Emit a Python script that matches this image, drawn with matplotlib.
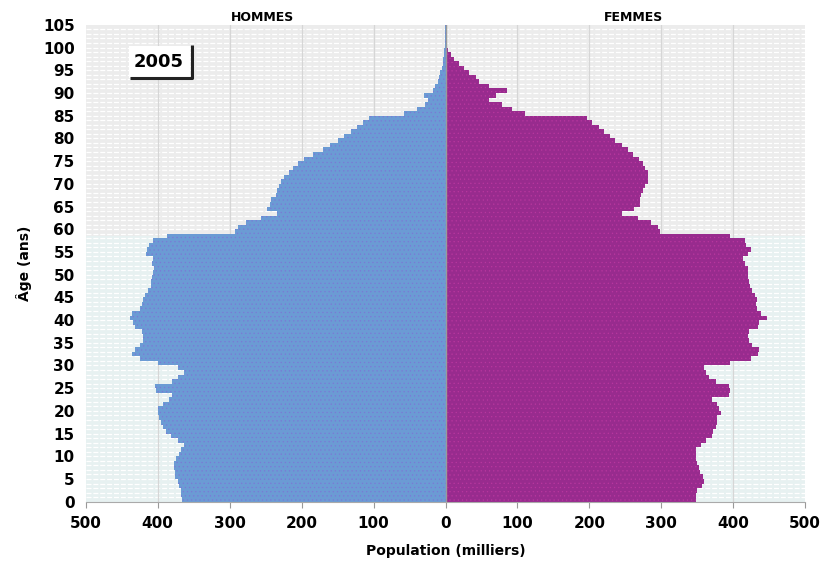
import numpy as np
import matplotlib.pyplot as plt
from matplotlib.patches import Rectangle

plt.rcParams['font.family'] = ['DejaVu Sans']
plt.rcParams['hatch.linewidth'] = 0.4

ages = np.arange(0, 105)

hommes = [
    366, 368, 368, 370, 372, 376, 376, 378, 377, 374,
    370, 368, 364, 372, 382, 388, 393, 396, 398, 400,
    400, 392, 385, 380, 403, 404, 380, 372, 364, 372,
    400, 424, 436, 432, 424, 420, 420, 422, 431, 434,
    438, 436, 424, 422, 420, 418, 414, 410, 410, 408,
    406, 405, 408, 406, 417, 415, 412, 406, 387, 292,
    288, 278, 257, 234, 248, 244, 242, 236, 234, 232,
    228, 224, 218, 212, 205, 197, 184, 170, 160, 150,
    141, 132, 123, 114, 106, 58, 40, 28, 25, 30,
    18, 14, 11, 9, 7, 5, 4, 3, 2, 1.5,
    1, 0.7, 0.4, 0.2, 0.1,
]

femmes = [
    348, 348, 350, 356, 359, 358, 354, 353, 350, 348,
    348, 348, 355, 362, 370, 372, 376, 378, 378, 383,
    380, 378, 371, 394, 395, 394, 376, 366, 362, 359,
    396, 424, 434, 436, 426, 422, 420, 422, 435, 436,
    447, 438, 433, 432, 433, 430, 426, 423, 422, 420,
    420, 421, 416, 413, 420, 424, 418, 416, 396, 298,
    296, 285, 268, 246, 262, 270, 271, 272, 274, 277,
    281, 281, 282, 278, 274, 269, 260, 253, 246, 236,
    229, 220, 213, 204, 197, 111, 93, 79, 60, 70,
    86, 60, 46, 42, 33, 26, 19, 12, 7, 4,
    2, 1.5, 1, 0.5, 0.2,
]

x_ticks = [-500, -400, -300, -200, -100, 0, 100, 200, 300, 400, 500]
y_ticks = list(range(0, 106, 5))

fig = plt.figure(figsize=(8.25, 5.65), dpi=100)
ax = fig.add_axes([0.104, 0.112, 0.872, 0.844])

# fond : gris en haut, bleu-vert très pâle en bas
ax.axhspan(58.5, 105, color='#ececec', zorder=0)
ax.axhspan(0, 58.5, color='#e7f1f1', zorder=0)
for a in range(1, 105):
    ax.axhline(a, color='white', lw=0.9, ls=(0, (4, 1.5)), zorder=0.5)
for xv in x_ticks[1:-1]:
    ax.axvline(xv, color='#d6d6d6', lw=0.9, zorder=0.6)

ax.barh(ages, -np.array(hommes), height=1.0, align='edge',
        color='#6b9bd4', edgecolor='#7b78d6', linewidth=0, hatch='....', zorder=2)
ax.barh(ages, femmes, height=1.0, align='edge',
        color='#982b8e', edgecolor='#b8379f', linewidth=0, hatch='....', zorder=2)

ax.axvline(0, color='#9a9a9a', lw=1.0, zorder=3)

ax.set_xlim(-500, 500)
ax.set_ylim(0, 105)
ax.set_xticks(x_ticks)
ax.set_xticklabels([str(abs(v)) for v in x_ticks], fontsize=11, fontweight='bold')
ax.set_yticks(y_ticks)
ax.set_yticklabels([str(v) for v in y_ticks], fontsize=11, fontweight='bold')
ax.tick_params(axis='y', length=0, pad=8)
ax.tick_params(axis='x', length=4, color='#999999', pad=6)
for side in ['top', 'right', 'left']:
    ax.spines[side].set_visible(False)
ax.spines['bottom'].set_color('#aaaaaa')

ax.set_xlabel('Population (milliers)', fontsize=10, fontweight='bold', labelpad=10)
ax.set_ylabel('Âge (ans)', fontsize=10, fontweight='bold', labelpad=8)

ax.text(-255, 105.2, 'HOMMES', ha='center', va='bottom', fontsize=9, fontweight='bold')
ax.text(262, 105.2, 'FEMMES', ha='center', va='bottom', fontsize=9, fontweight='bold')

# encadré de l'année
ax.add_patch(Rectangle((-440, 93.3), 85, 7, facecolor='white', edgecolor='none', zorder=4))
ax.plot([-438, -353, -353], [93.3, 93.3, 100.6], color='#222222', lw=2.2, zorder=5,
        solid_capstyle='butt')
ax.text(-399, 96.9, '2005', ha='center', va='center', fontsize=13, fontweight='bold', zorder=6)

fig.savefig('out.png', dpi=100)
